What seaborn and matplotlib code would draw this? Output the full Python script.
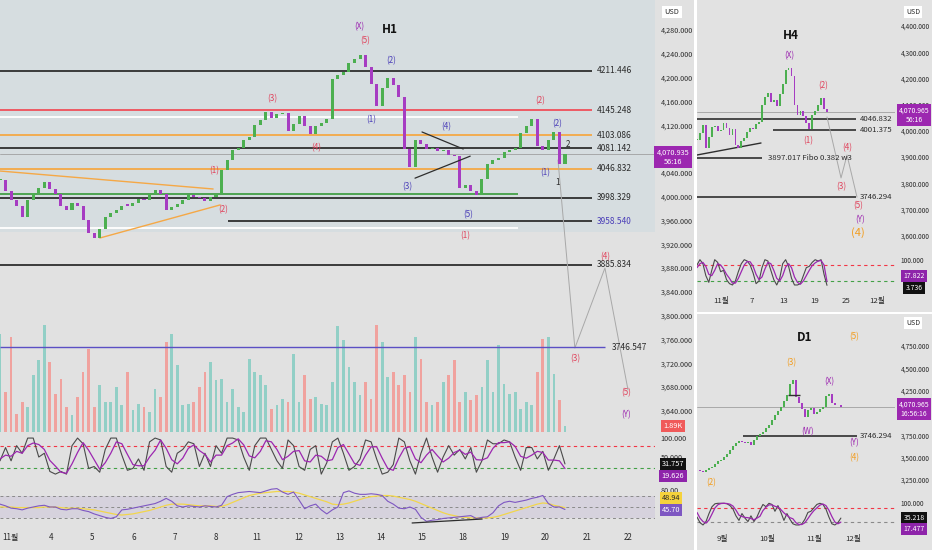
import numpy as np
import seaborn as sns
from matplotlib import pyplot as plt

W, H = 932, 550

# ---------------- H1 data (hourly gold, sampled) ----------------
h1_close = [
    4028, 4010, 3995, 3985, 3966, 3995, 4006, 4015, 4025, 4012,
    4004, 3985, 3978, 3990, 3984, 3960, 3938, 3930, 3945, 3965,
    3972, 3978, 3985, 3984, 3990, 3996, 3994, 4005, 4011, 4005,
    3978, 3982, 3988, 3995, 4003, 4000, 3998, 3992, 4000, 4005,
    4044, 4062, 4078, 4082, 4095, 4100, 4120, 4128, 4142, 4132,
    4138, 4140, 4110, 4122, 4135, 4118, 4105, 4118, 4124, 4130,
    4198, 4204, 4209, 4225, 4232, 4238, 4218, 4190, 4152, 4182,
    4200, 4188, 4168, 4080, 4050, 4095, 4088, 4080, 4082, 4076,
    4078, 4070, 4068, 4015, 4020, 4010, 4003, 4030, 4055, 4062,
    4065, 4075, 4078, 4082, 4107, 4118, 4130, 4085, 4078, 4095,
    4108, 4055, 4071,
]
h1_volume_k = [
    32.7, 13.3, 31.7, 6, 10, 8.3, 19, 24, 35.7, 23.3,
    12.7, 17.7, 8.3, 5.7, 11.7, 20, 27.7, 8.3, 15.7, 10,
    10, 15, 9, 20, 7.3, 9.3, 8.3, 6.7, 14.3, 11.7,
    30, 32.7, 22.3, 9, 9.3, 10, 15, 20, 23.3, 17.3,
    17.7, 10, 14.3, 8.3, 6.7, 24.3, 20, 19, 15.7, 7.7,
    9, 11, 10, 26, 10, 19, 11, 11.7, 9.3, 9,
    16.7, 35.3, 30.7, 21.7, 16.7, 12.3, 16.7, 11, 35.7, 30,
    18.3, 20, 15.7, 19, 13.3, 31.7, 24.3, 10, 9, 10,
    16.7, 19, 24, 10, 13.3, 10.7, 12.3, 15, 24, 13.3,
    29, 16, 12.7, 13.3, 7.7, 10, 9, 20, 31, 31.7,
    19.3, 10.7, 1.89,
]
h1_stoch_k = [
    40, 75, 40, 80, 60, 100, 100, 50, 60, 12,
    5, 12, 5, 80, 100, 85, 20, 25, 10, 70,
    100, 100, 55, 15, 20, 45, 15, 90, 100, 95,
    25, 10, 60, 70, 90, 85, 25, 60, 25, 80,
    60, 100, 100, 95, 50, 15, 80, 100, 100, 70,
    40, 20, 95, 80, 25, 15, 70, 80, 5, 35,
    90, 100, 60, 15, 25, 45, 95, 90, 45, 5,
    10, 30, 100, 90, 40, 5, 60, 100, 50, 10,
    50, 80, 55, 70, 45, 75, 10, 40, 95, 85,
    85, 95, 90, 50, 15, 75, 75, 45, 65, 15,
    45, 80, 31.757,
]
h1_stoch_d = [
    45, 55, 52, 65, 60, 80, 87, 83, 70, 41,
    26, 10, 7, 32, 62, 88, 68, 43, 18, 35,
    60, 90, 85, 57, 30, 27, 27, 50, 68, 95,
    73, 43, 32, 47, 73, 82, 67, 57, 37, 55,
    55, 80, 87, 98, 82, 53, 48, 65, 93, 90,
    70, 43, 52, 65, 67, 40, 37, 55, 52, 40,
    43, 75, 83, 58, 33, 28, 55, 77, 77, 47,
    20, 15, 47, 73, 77, 45, 35, 55, 70, 53,
    37, 47, 62, 68, 57, 63, 43, 42, 48, 73,
    88, 88, 90, 78, 52, 47, 55, 65, 62, 42,
    42, 40, 19.626,
]
h1_rsi = [
    55, 52, 48, 47, 45, 48, 50, 52, 53, 50,
    50, 46, 45, 47, 47, 44, 42, 38, 35, 32,
    30, 33, 45, 46, 48, 50, 52, 54, 56, 60,
    65, 60, 52, 50, 52, 51, 50, 52, 51, 50,
    53, 68, 72, 75, 76, 77, 76, 75, 78, 81,
    82, 76, 72, 76, 62, 47, 52, 55, 45, 38,
    45, 50, 75, 78, 74, 72, 72, 73, 72, 70,
    60, 55, 48, 47, 50, 46, 32, 25, 27, 28,
    30, 31, 32, 33, 34, 35, 30, 32, 33, 40,
    52, 58, 60, 58, 60, 62, 65, 67, 70, 56,
    50, 50, 45.70,
]
h1_rsi_ma = [
    50, 50, 50, 49, 49, 49, 49, 49, 50, 50,
    50, 49, 48, 48, 48, 47, 46, 45, 43, 41,
    39, 37, 36, 37, 38, 40, 42, 44, 47, 50,
    53, 55, 55, 55, 54, 53, 52, 52, 52, 51,
    51, 54, 58, 62, 66, 70, 72, 74, 75, 76,
    77, 77, 77, 76, 74, 71, 68, 65, 62, 59,
    55, 54, 55, 57, 60, 63, 66, 68, 69, 70,
    70, 69, 67, 65, 63, 60, 56, 52, 48, 44,
    40, 37, 35, 33, 32, 31, 31, 31, 31, 32,
    34, 37, 40, 43, 46, 49, 52, 55, 57, 56,
    53, 51, 48.94,
]
h1_day_labels = ["11월", "4", "5", "6", "7", "8", "11", "12", "13",
                 "14", "15", "18", "19", "20", "21", "22"]

# ---------------- H4 data ----------------
h4_close = [
    3965, 3990, 4022, 3935, 3975, 4015, 4020, 4000, 4003, 4030,
    4010, 3984, 4005, 3945, 3935, 3960, 3973, 3995, 4011, 4005,
    4025, 4034, 4100, 4130, 4144, 4110, 4118, 4095, 4140, 4180,
    4232, 4240, 4210, 4100, 4060, 4075, 4055, 4030, 4005, 4060,
    4075, 4098, 4125, 4085, 4071,
]
h4_stoch_k = [
    80, 100, 85, 40, 15, 60, 100, 90, 55, 60,
    25, 10, 5, 20, 55, 85, 100, 95, 80, 50,
    10, 20, 70, 100, 95, 60, 25, 5, 30, 85,
    100, 75, 30, 5, 5, 10, 40, 70, 75, 90,
    100, 95, 100, 45, 3.736,
]
h4_stoch_d = [
    70, 85, 90, 75, 45, 40, 60, 85, 80, 65,
    45, 30, 12, 12, 30, 55, 80, 93, 92, 75,
    45, 25, 35, 65, 90, 85, 60, 30, 20, 40,
    72, 85, 70, 35, 15, 8, 20, 40, 60, 78,
    88, 95, 97, 80, 17.822,
]
h4_tick_days = [1, 7, 13, 19, 25, 31]
h4_tick_labels = ["11월", "7", "13", "19", "25", "12월"]

# ---------------- D1 data ----------------
d1_close = [
    3361, 3345, 3340, 3360, 3385, 3395, 3430, 3460, 3475, 3510,
    3540, 3585, 3630, 3660, 3690, 3680, 3664, 3680, 3645, 3700,
    3740, 3765, 3790, 3830, 3870, 3920, 3977, 4020, 4070, 4130,
    4200, 4320, 4370, 4180, 4110, 4040, 3960, 4030, 4055, 3990,
    4010, 4040, 4070, 4190, 4215, 4110, 4090, 4085, 4071,
]
d1_stoch_k = [
    40, 15, 5, 20, 55, 85, 98, 100, 100, 100,
    98, 90, 75, 45, 25, 55, 35, 20, 45, 20,
    40, 70, 95, 85, 100, 95, 65, 90, 60, 25,
    55, 30, 10, 5, 5, 10, 30, 60, 65, 80,
    95, 100, 95, 75, 40, 10, 5, 15, 35.218,
]
d1_stoch_d = [
    60, 35, 20, 13, 27, 53, 80, 94, 99, 100,
    99, 96, 88, 70, 48, 42, 38, 37, 33, 28,
    35, 43, 68, 83, 93, 93, 87, 83, 72, 58,
    47, 37, 32, 15, 7, 7, 15, 33, 52, 68,
    80, 92, 97, 90, 70, 42, 18, 10, 17.477,
]
d1_tick_idx = [0, 22, 44.9, 63.9]
d1_tick_labels = ["9월", "10월", "11월", "12월"]

# ---------------- styling ----------------
UP = "#4caf50"
DOWN = "#a63cc2"
VOL_UP = "#92cfc6"
VOL_DOWN = "#f0a29e"
RED_LBL = "#e0435c"
BLUE_LBL = "#4b3fb8"
PURPLE_LBL = "#9c27b0"
ORANGE_LBL = "#f29d1f"
LINE_DARK = "#2e2e2e"
ORANGE_LINE = "#f5a846"
TXT = "#2a2a2a"
TICK_FS = 5.2
SIDE_FS = 4.7

sns.set_theme(style="white")
plt.rcParams["font.family"] = ["Noto Sans CJK KR", "DejaVu Sans"]
plt.rcParams["axes.unicode_minus"] = False

fig = plt.figure(figsize=(W / 100, H / 100), dpi=100, facecolor="white")


def rect(x0, y0, x1, y1):
    return [x0 / W, 1 - y1 / H, (x1 - x0) / W, (y1 - y0) / H]


def new_ax(x0, y0, x1, y1, face="none", z=1):
    ax = fig.add_axes(rect(x0, y0, x1, y1), facecolor=face, zorder=z)
    for s in ax.spines.values():
        s.set_visible(False)
    ax.tick_params(length=0, labelsize=TICK_FS, colors=TXT)
    ax.set_xticks([])
    ax.set_yticks([])
    return ax


def ftext(x, y, s, **kw):
    kw.setdefault("fontsize", 5.3)
    kw.setdefault("va", "center")
    fig.text(x / W, 1 - y / H, s, **kw)


def badge(x, y, s, face, color="white", **kw):
    ftext(x, y, s, color=color, ha="center",
          bbox=dict(boxstyle="square,pad=0.3", fc=face, ec="none"), zorder=20, **kw)


def candles(ax, xs, close, width):
    close = np.asarray(close, dtype=float)
    opens = np.r_[close[0], close[:-1]]
    body = close - opens
    body = np.where(np.abs(body) < 2, 2, body)
    cols = [UP if c >= o else DOWN for o, c in zip(opens, close)]
    ax.bar(xs, body, bottom=opens, width=width, color=cols, linewidth=0, zorder=3)


def price_ticks(ax, ticks, pad, size=TICK_FS):
    ax.yaxis.tick_right()
    ax.set_yticks(ticks)
    ax.set_yticklabels([f"{t:,.3f}" for t in ticks])
    ax.tick_params(axis="y", pad=pad, labelsize=size, colors=TXT)


def stoch_pane(ax, xs, k, d, lines):
    for lvl, col in lines:
        ax.axhline(lvl, color=col, lw=0.8, ls=(0, (3, 3)), zorder=1)
    sns.lineplot(x=xs, y=k, ax=ax, color="#4a4a4a", lw=0.8, legend=False, zorder=3)
    sns.lineplot(x=xs, y=d, ax=ax, color="#9c27b0", lw=0.9, legend=False, zorder=3)
    ax.set_xlabel("")
    ax.set_ylabel("")


# ---------------- panel backgrounds ----------------
new_ax(0, 0, 694, 550, face="#e1e1e1", z=0)
new_ax(697, 0, 932, 312, face="#e2e2e2", z=0)
new_ax(697, 314, 932, 550, face="#e2e2e2", z=0)

# ================= H1 =================
h1_xlim = (-0.243, 15.655)
h1_x = np.linspace(-0.243, 13.47, len(h1_close))
step = h1_x[1] - h1_x[0]

ax1 = new_ax(0, 0, 655, 432, z=2)
ax1.set_xlim(*h1_xlim)
ax1.set_ylim(3604.4, 4330.4)
ax1.axhspan(3940.5, 4331, color="#d6dde0", zorder=0, lw=0)
price_ticks(ax1, list(range(3640, 4281, 40)), 4)

# horizontal levels: price, start, end, colour
levels = [
    (4211.446, -0.243, 14.13, LINE_DARK),
    (4145.248, -0.243, 14.13, "#f0505a"),
    (4133.8, -0.243, 12.33, "white"),
    (4103.086, -0.243, 14.13, ORANGE_LINE),
    (4081.142, -0.243, 14.13, LINE_DARK),
    (4046.832, -0.243, 14.13, ORANGE_LINE),
    (4004.4, -0.243, 12.33, "#43a047"),
    (3998.329, -0.243, 14.13, LINE_DARK),
    (3958.540, 5.29, 14.13, LINE_DARK),
    (3947.2, -0.243, 12.33, "white"),
    (3885.834, -0.243, 14.13, LINE_DARK),
]
for p, a, b, c in levels:
    ax1.hlines(p, a, b, color=c, lw=1.3, zorder=2)
for p, c in [(4211.446, TXT), (4145.248, TXT), (4103.086, TXT), (4081.142, TXT),
             (4046.832, TXT), (3998.329, TXT), (3958.540, BLUE_LBL), (3885.834, TXT)]:
    ax1.text(14.25, p, f"{p:.3f}", color=c, fontsize=6, va="center", zorder=6)
ax1.axhline(4070.935, color="#a0a0a0", lw=0.6, zorder=2)

# trend lines
ax1.plot([-0.243, 4.93], [4043, 4012.8], color=ORANGE_LINE, lw=1.0, zorder=2)
ax1.plot([2.18, 5.10], [3930.4, 3986], color=ORANGE_LINE, lw=1.0, zorder=2)
ax1.plot([10.0, 11.0], [4108.6, 4080], color=LINE_DARK, lw=0.9, zorder=4)
ax1.plot([9.83, 11.17], [4031, 4068], color=LINE_DARK, lw=0.9, zorder=4)
ax1.plot([13.30, 13.71, 14.44, 15.0], [4061.5, 3745.5, 3880, 3675],
         color="#a8a8a8", lw=0.7, zorder=2)

candles(ax1, h1_x, h1_close, step * 0.55)

h1_waves = [
    ("(X)", 8.47, 4285, PURPLE_LBL), ("(5)", 8.62, 4261.5, RED_LBL),
    ("(2)", 9.25, 4228, BLUE_LBL), ("(1)", 8.76, 4129, BLUE_LBL),
    ("(4)", 10.58, 4117, BLUE_LBL), ("(3)", 9.64, 4016, BLUE_LBL),
    ("(5)", 11.12, 3969, BLUE_LBL), ("(1)", 11.04, 3934, RED_LBL),
    ("(2)", 12.86, 4161, RED_LBL), ("(2)", 13.28, 4122, BLUE_LBL),
    ("2", 13.54, 4088, TXT), ("(1)", 12.99, 4041, BLUE_LBL),
    ("1", 13.30, 4024, TXT), ("(4)", 14.44, 3898.5, RED_LBL),
    ("(3)", 13.71, 3727, RED_LBL), ("(5)", 14.95, 3670, RED_LBL),
    ("(Y)", 14.95, 3633, PURPLE_LBL), ("(3)", 6.36, 4164, RED_LBL),
    ("(4)", 7.43, 4082, RED_LBL), ("(1)", 4.95, 4043, RED_LBL),
    ("(2)", 5.17, 3977.5, RED_LBL),
]
for s, x, y, c in h1_waves:
    ax1.text(x, y, s, color=c, fontsize=5.8, ha="center", va="center", zorder=6)
ax1.text(9.22, 4280, "H1", fontsize=8.5, fontweight="bold", ha="center", va="center", color="#111")

# volume overlay
axv = new_ax(0, 300, 655, 432, z=1.5)
axv.set_xlim(*h1_xlim)
axv.set_ylim(0, 44)
opens = np.r_[h1_close[0], h1_close[:-1]]
vcols = [VOL_UP if c >= o else VOL_DOWN for o, c in zip(opens, h1_close)]
axv.bar(h1_x, h1_volume_k, width=step * 0.5, color=vcols, linewidth=0)
ax1.hlines(3746.547, -0.243, 14.44, color="#5b4fc4", lw=1.0, zorder=4)
ax1.text(14.6, 3746.547, "3746.547", fontsize=6, va="center", color=TXT, zorder=6)

# stochastic
axs = new_ax(0, 432, 655, 487, z=2)
axs.set_xlim(*h1_xlim)
axs.set_ylim(-29, 116)
stoch_pane(axs, h1_x, h1_stoch_k, h1_stoch_d, [(80, "#f23645"), (20, "#43a047")])
axs.yaxis.tick_right()
axs.set_yticks([100, 50])
axs.set_yticklabels(["100.000", "50.000"])
axs.tick_params(axis="y", pad=4)

# rsi
axr = new_ax(0, 487, 655, 522, z=2)
axr.set_xlim(*h1_xlim)
axr.set_ylim(23.9, 84.8)
axr.axhspan(30, 70, color="#7e57c2", alpha=0.1, lw=0)
for lvl in (70, 50, 30):
    axr.axhline(lvl, color="#8a8a8a", lw=0.7, ls=(0, (3, 3)))
sns.lineplot(x=h1_x, y=h1_rsi_ma, ax=axr, color="#f2d64b", lw=0.9, legend=False)
sns.lineplot(x=h1_x, y=h1_rsi, ax=axr, color="#7e57c2", lw=0.8, legend=False)
axr.plot([9.76, 11.46], [22.2, 29.1], color=LINE_DARK, lw=0.9, clip_on=False)
axr.set_xlabel("")
axr.set_ylabel("")
axr.yaxis.tick_right()
axr.set_yticks([80])
axr.set_yticklabels(["80.00"])
axr.tick_params(axis="y", pad=4)
axr.set_xticks(range(len(h1_day_labels)))
axr.set_xticklabels(h1_day_labels, fontsize=5.8)
axr.tick_params(axis="x", pad=8)

badge(672, 12, "USD", "white", color=TXT)
badge(673, 157, "4,070.935\n56:16", PURPLE_LBL, linespacing=1.2)
badge(673, 426, "1.89K", "#f05a5a")
badge(673, 464, "31.757", "#111111")
badge(673, 476, "19.626", "#8e24aa")
badge(671, 498, "48.94", "#f5d23c", color=TXT)
badge(671, 510, "45.70", "#7e57c2")

# ================= H4 =================
h4_xlim = (-3.577, 34.5)
h4_x = np.linspace(-3.58, 21.42, len(h4_close))
ax4 = new_ax(697, 0, 895, 250, z=2)
ax4.set_xlim(*h4_xlim)
ax4.set_ylim(3545.0, 4499.2)
price_ticks(ax4, list(range(3600, 4401, 100)), 4, SIDE_FS)
for p, a, b in [(4046.832, -3.58, 27), (4001.375, 11.04, 27), (3897.017, -3.58, 8.92),
                (3746.294, -3.58, 27)]:
    ax4.hlines(p, a, b, color=LINE_DARK, lw=1.2, zorder=2)
ax4.text(27.8, 4046.832, "4046.832", fontsize=5.6, va="center", color=TXT)
ax4.text(27.8, 4001.375, "4001.375", fontsize=5.6, va="center", color=TXT)
ax4.text(10.0, 3897.017, "3897.017 Fibo 0.382 w3", fontsize=5.6, va="center", color=TXT)
ax4.text(27.8, 3746.294, "3746.294", fontsize=5.6, va="center", color=TXT)
ax4.axhline(4070.965, color="#a0a0a0", lw=0.6, zorder=1)
ax4.plot([-3.58, 8.73], [3907.6, 3953.4], color=LINE_DARK, lw=1.0, zorder=2)
ax4.plot([21.42, 24.12, 25.27, 27.19], [4052.7, 3820, 3907.6, 3747],
         color="#a8a8a8", lw=0.7, zorder=2)
candles(ax4, h4_x, h4_close, (h4_x[1] - h4_x[0]) * 0.6)
h4_waves = [
    ("(X)", 14.12, 4285.5, PURPLE_LBL), ("(2)", 20.65, 4171, RED_LBL),
    ("(1)", 17.77, 3961, RED_LBL), ("(4)", 25.27, 3934, RED_LBL),
    ("(3)", 24.12, 3785.5, RED_LBL), ("(5)", 27.38, 3713, RED_LBL),
    ("(Y)", 27.77, 3659.5, PURPLE_LBL),
]
for s, x, y, c in h4_waves:
    ax4.text(x, y, s, color=c, fontsize=5.8, ha="center", va="center", zorder=6)
ax4.text(27.38, 3610, "(4)", color=ORANGE_LBL, fontsize=8, ha="center", va="center")
ax4.text(14.5, 4361.8, "H4", fontsize=8.5, fontweight="bold", ha="center", va="center", color="#111")

ax4s = new_ax(697, 250, 895, 293, z=2)
ax4s.set_xlim(*h4_xlim)
ax4s.set_ylim(-25.1, 136.4)
stoch_pane(ax4s, h4_x, h4_stoch_k, h4_stoch_d, [(80, "#f23645"), (20, "#43a047")])
ax4s.yaxis.tick_right()
ax4s.set_yticks([100])
ax4s.set_yticklabels(["100.000"])
ax4s.tick_params(axis="y", pad=4, labelsize=SIDE_FS)
ax4s.set_xticks(h4_tick_days)
ax4s.set_xticklabels(h4_tick_labels, fontsize=5.6)
ax4s.tick_params(axis="x", pad=3)

badge(913, 12, "USD", "white", color=TXT, fontsize=5)
badge(914, 115, "4,070.965\n56:16", PURPLE_LBL, linespacing=1.2, fontsize=5)
badge(914, 276, "17.822", "#8e24aa", fontsize=5)
badge(914, 288, "3.736", "#111111", fontsize=5)

# ================= D1 =================
d1_xlim = (-12.2, 84.4)
d1_x = np.linspace(-12.2, 58, len(d1_close))
axd = new_ax(697, 314, 895, 497, z=2)
axd.set_xlim(*d1_xlim)
axd.set_ylim(3059, 5108)
price_ticks(axd, list(range(3250, 4751, 250)), 4, SIDE_FS)
axd.hlines(3746.294, 10.24, 65.9, color=LINE_DARK, lw=1.2, zorder=2)
axd.hlines(4201, 32.2, 38, color=LINE_DARK, lw=1.0, zorder=4)
axd.text(67.3, 3746.294, "3746.294", fontsize=5.6, va="center", color=TXT)
axd.axhline(4070.965, color="#a0a0a0", lw=0.6, zorder=1)
candles(axd, d1_x, d1_close, (d1_x[1] - d1_x[0]) * 0.65)
d1_waves = [
    ("(5)", 64.4, 4851, ORANGE_LBL), ("(3)", 33.7, 4560, ORANGE_LBL),
    ("(X)", 52.2, 4347, PURPLE_LBL), ("(W)", 41.5, 3787, PURPLE_LBL),
    ("(Y)", 64.4, 3664, PURPLE_LBL), ("(4)", 64.4, 3496, ORANGE_LBL),
    ("(2)", -5.4, 3216, ORANGE_LBL),
]
for s, x, y, c in d1_waves:
    axd.text(x, y, s, color=c, fontsize=5.8, ha="center", va="center", zorder=6)
axd.text(40.5, 4840, "D1", fontsize=8.5, fontweight="bold", ha="center", va="center", color="#111")

axds = new_ax(697, 497, 895, 532, z=2)
axds.set_xlim(*d1_xlim)
axds.set_ylim(-25.8, 127.6)
stoch_pane(axds, d1_x, d1_stoch_k, d1_stoch_d, [(80, "#f23645"), (20, "#8a8a8a")])
axds.yaxis.tick_right()
axds.set_yticks([100])
axds.set_yticklabels(["100.000"])
axds.tick_params(axis="y", pad=4, labelsize=SIDE_FS)
axds.set_xticks(d1_tick_idx)
axds.set_xticklabels(d1_tick_labels, fontsize=5.6)
axds.tick_params(axis="x", pad=2)

badge(913, 323, "USD", "white", color=TXT, fontsize=5)
badge(914, 409, "4,070.965\n16:56:16", PURPLE_LBL, linespacing=1.2, fontsize=5)
badge(914, 518, "35.218", "#111111", fontsize=5)
badge(914, 529, "17.477", "#8e24aa", fontsize=5)

fig.savefig("out.png", dpi=100, facecolor=fig.get_facecolor())
